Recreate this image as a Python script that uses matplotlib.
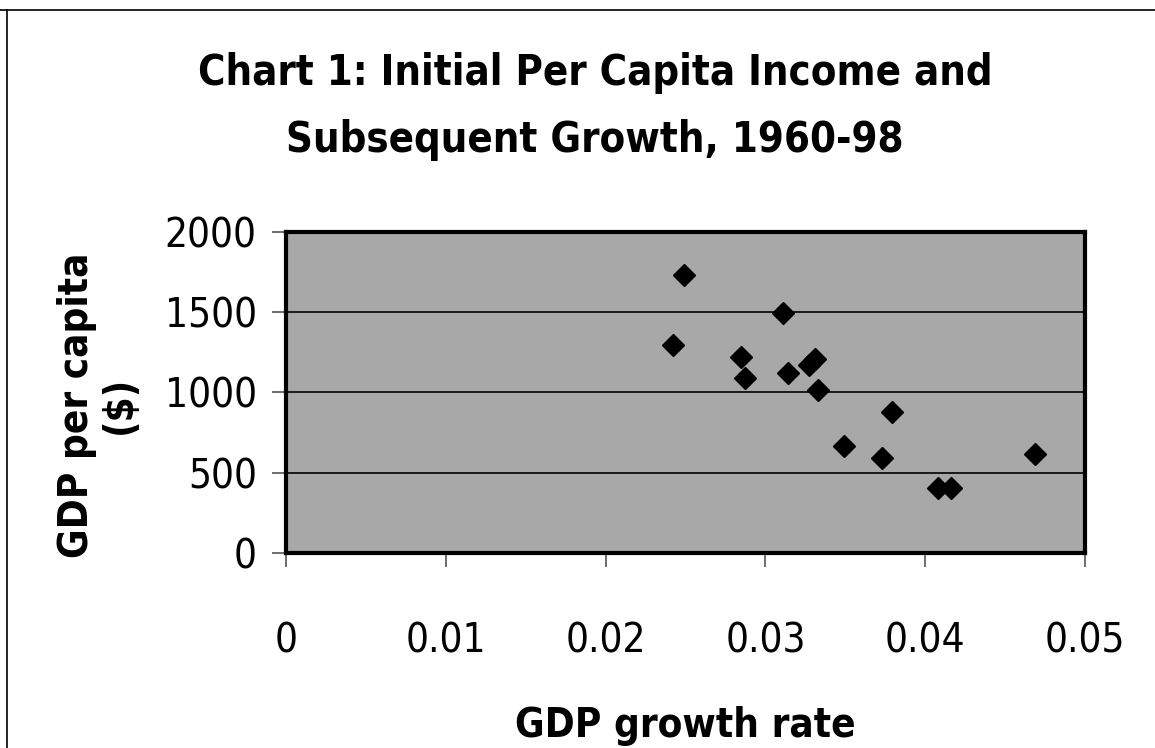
import numpy as np
import matplotlib.pyplot as plt
from matplotlib.lines import Line2D

# growth rate 1960-98 vs initial GDP per capita
growth = [0.0249, 0.0311, 0.0242, 0.0285, 0.0287, 0.0314, 0.0327, 0.0331,
          0.0333, 0.0379, 0.0349, 0.0373, 0.0469, 0.0408, 0.0416]
gdp = [1732, 1493, 1296, 1223, 1088, 1123, 1170, 1210,
       1016, 876, 667, 594, 615, 403, 403]

xticks = [0, 0.01, 0.02, 0.03, 0.04, 0.05]
xtick_labels = ['0', '0.01', '0.02', '0.03', '0.04', '0.05']
yticks = [0, 500, 1000, 1500, 2000]

plt.rcParams['font.family'] = ['Liberation Sans Narrow', 'DejaVu Sans']
plt.rcParams['font.stretch'] = 'condensed'

fig = plt.figure(figsize=(11.55, 7.48), dpi=100)
ax = fig.add_axes([286/1155, 1 - 553/748, (1085 - 286)/1155, (553 - 232)/748])

ax.set_facecolor('#a8a8a8')
ax.set_axisbelow(True)
ax.grid(axis='y', color='black', linewidth=1.2)
ax.plot(growth, gdp, linestyle='none', marker='D', markersize=11,
        color='black', zorder=3)

ax.set_xlim(0, 0.05)
ax.set_ylim(0, 2000)
ax.set_xticks(xticks)
ax.set_xticklabels(xtick_labels)
ax.set_yticks(yticks)
ax.tick_params(axis='both', labelsize=29, direction='out', length=10,
               width=1.2, color='#555555')
ax.tick_params(axis='x', pad=39)
ax.tick_params(axis='y', pad=11)
for s in ax.spines.values():
    s.set_linewidth(3)
    s.set_color('black')

ax.set_xlabel('GDP growth rate', fontsize=29, fontweight='bold', labelpad=32)
ax.set_ylabel('GDP per capita\n($)', fontsize=29, fontweight='bold',
              linespacing=1.1)
ax.yaxis.set_label_coords(-0.183, 0.46)

fig.text(0.515, 1 - 85/748, 'Chart 1: Initial Per Capita Income and',
         ha='center', va='baseline', fontsize=30, fontweight='bold')
fig.text(0.515, 1 - 152/748, 'Subsequent Growth, 1960-98',
         ha='center', va='baseline', fontsize=30, fontweight='bold')

# outer frame of the scanned chart
fig.add_artist(Line2D([0, 1], [1 - 10/748, 1 - 10/748], color='black', linewidth=1.2))
fig.add_artist(Line2D([7/1155, 7/1155], [0, 1 - 10/748], color='black', linewidth=1.2))

fig.savefig('out.png', dpi=100)
